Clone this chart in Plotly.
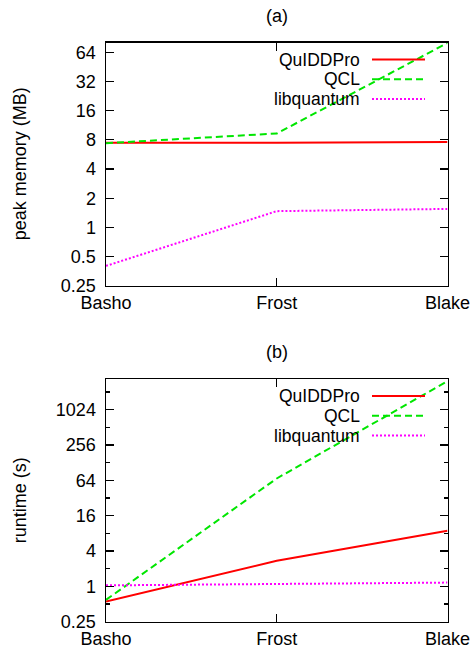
import math
import plotly.graph_objects as go

categories = ["Basho", "Frost", "Blake"]
series_names = ["QuIDDPro", "QCL", "libquantum"]

# (a) peak memory (MB)
mem_quiddpro = [7.45, 7.45, 7.6]
mem_qcl = [7.4, 9.3, 80.0]
mem_libquantum = [0.40, 1.47, 1.55]

# (b) runtime (s)
rt_quiddpro = [0.55, 2.73, 8.9]
rt_qcl = [0.59, 69.0, 3150.0]
rt_libquantum = [1.04, 1.10, 1.16]

mem_ticks = [0.25, 0.5, 1, 2, 4, 8, 16, 32, 64]
mem_ticktext = ["0.25", "0.5", "1", "2", "4", "8", "16", "32", "64"]
rt_ticks = [0.25, 1, 4, 16, 64, 256, 1024]
rt_ticktext = ["0.25", "1", "4", "16", "64", "256", "1024"]
rt_minor = [0.5, 2, 8, 32, 128, 512, 2048]

W, H = 471, 654
FONT = "Liberation Sans, Arial, Helvetica, sans-serif"
FS = 18
LFS = 17.5

styles = [
    dict(color="#ff0000", width=2, dash="solid"),
    dict(color="#00e600", width=2, dash="7px,4px"),
    dict(color="#ff00ff", width=2, dash="2px,2px"),
]

# pixel layout (page coordinates)
x0p, x1p = 106, 447.5
top_t, top_b = 42.7, 285.7
bot_t, bot_b = 379, 621.7


def px_x(x):
    return x / W


def px_y(y):
    return 1 - y / H


fig = go.Figure()

mem_data = [mem_quiddpro, mem_qcl, mem_libquantum]
rt_data = [rt_quiddpro, rt_qcl, rt_libquantum]

for name, vals, st in zip(series_names, mem_data, styles):
    fig.add_trace(go.Scatter(x=categories, y=vals, mode="lines", name=name,
                             line=st, xaxis="x", yaxis="y", showlegend=False))
for name, vals, st in zip(series_names, rt_data, styles):
    fig.add_trace(go.Scatter(x=categories, y=vals, mode="lines", name=name,
                             line=st, xaxis="x2", yaxis="y2", showlegend=False))

axis_common = dict(
    showline=True, linecolor="black", linewidth=1.5, mirror="ticks",
    ticks="inside", ticklen=8, tickwidth=1.2, tickcolor="black",
    showgrid=False, zeroline=False, automargin=False,
    tickfont=dict(family=FONT, size=FS, color="black"),
)

fig.update_layout(
    template="none",
    width=W, height=H,
    margin=dict(l=0, r=0, t=0, b=0),
    paper_bgcolor="white", plot_bgcolor="white",
    font=dict(family=FONT, size=FS, color="black"),
    showlegend=False,
    xaxis=dict(domain=[px_x(x0p), px_x(x1p)], anchor="y", type="category",
               range=[0, 2], ticklabelstandoff=0, **axis_common),
    yaxis=dict(domain=[px_y(top_b), px_y(top_t)], anchor="x", type="log",
               range=[math.log10(0.25), math.log10(80.5)],
               tickvals=mem_ticks, ticktext=mem_ticktext,
               ticklabelstandoff=5, **axis_common),
    xaxis2=dict(domain=[px_x(x0p), px_x(x1p)], anchor="y2", type="category",
                range=[0, 2], ticklabelstandoff=0, **axis_common),
    yaxis2=dict(domain=[px_y(bot_b), px_y(bot_t)], anchor="x2", type="log",
                range=[math.log10(0.25), math.log10(3420)],
                tickvals=rt_ticks, ticktext=rt_ticktext,
                minor=dict(tickvals=rt_minor, ticks="inside", ticklen=4,
                           tickcolor="black", tickwidth=1.2, showgrid=False),
                ticklabelstandoff=5, **axis_common),
)

annotations = []
# panel titles
annotations.append(dict(x=px_x((x0p + x1p) / 2), y=px_y(16), xref="paper", yref="paper",
                        text="(a)", showarrow=False, xanchor="center", yanchor="middle",
                        font=dict(family=FONT, size=FS)))
annotations.append(dict(x=px_x((x0p + x1p) / 2), y=px_y(352), xref="paper", yref="paper",
                        text="(b)", showarrow=False, xanchor="center", yanchor="middle",
                        font=dict(family=FONT, size=FS)))
# y-axis titles
annotations.append(dict(x=px_x(20), y=px_y((top_t + top_b) / 2), xref="paper", yref="paper",
                        text="peak memory (MB)", textangle=-90, showarrow=False,
                        xanchor="center", yanchor="middle", font=dict(family=FONT, size=FS)))
annotations.append(dict(x=px_x(20), y=px_y((bot_t + bot_b) / 2), xref="paper", yref="paper",
                        text="runtime (s)", textangle=-90, showarrow=False,
                        xanchor="center", yanchor="middle", font=dict(family=FONT, size=FS)))

shapes = []
legend_rows = [[59.5, 79.3, 99.1], [395.9, 415.7, 435.5]]
for rows in legend_rows:
    for name, st, yy in zip(series_names, styles, rows):
        annotations.append(dict(x=px_x(361), y=px_y(yy), xref="paper", yref="paper",
                                text=name, showarrow=False, xanchor="right", yanchor="middle",
                                borderpad=0, font=dict(family=FONT, size=LFS)))
        shapes.append(dict(type="line", xref="paper", yref="paper",
                           x0=px_x(372), x1=px_x(425), y0=px_y(yy), y1=px_y(yy),
                           line=st))

fig.update_layout(annotations=annotations, shapes=shapes)

page_fix = (
    "document.documentElement.style.margin='0';"
    "document.documentElement.style.padding='0';"
    "document.documentElement.style.overflow='hidden';"
    "document.body.style.margin='0';"
    "document.body.style.padding='0';"
    "document.body.style.overflow='hidden';"
)

fig.write_html("out.html", post_script=page_fix,
               config={"displayModeBar": False, "staticPlot": True})
